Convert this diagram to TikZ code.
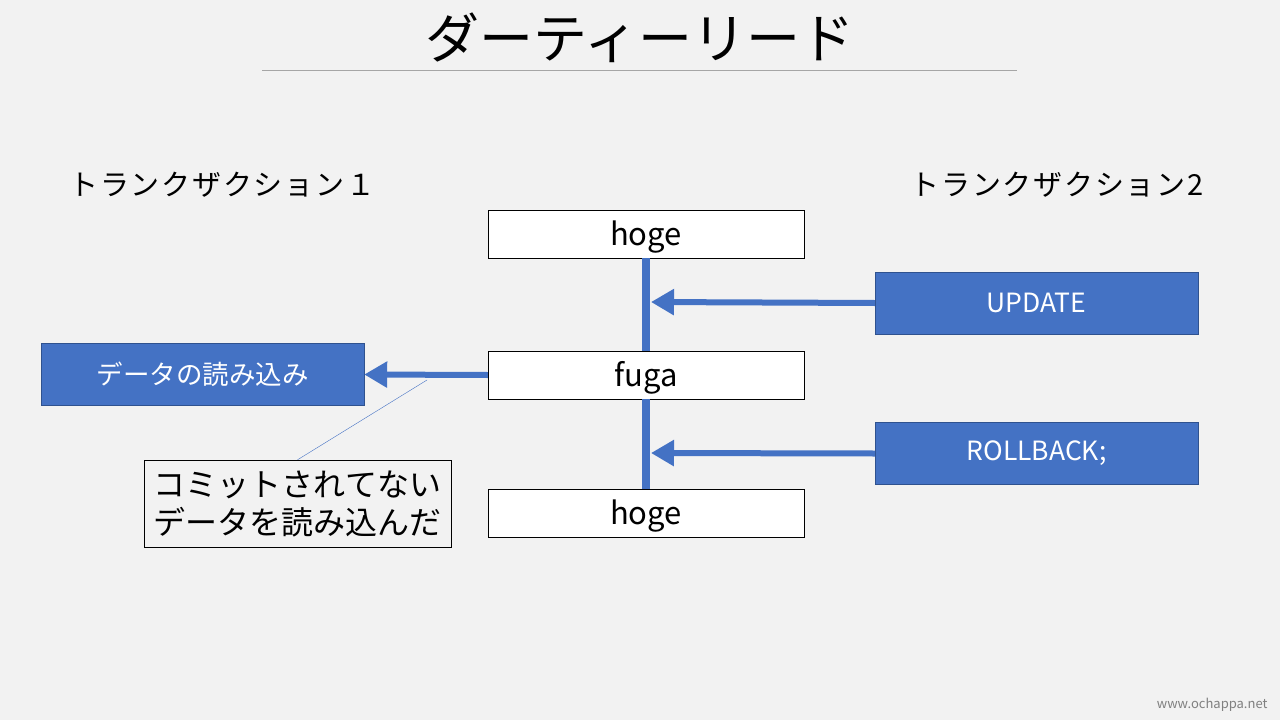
\documentclass[tikz,border=0pt]{standalone}
\usepackage{fontspec}
\setmainfont{Noto Sans CJK JP}
\newfontfamily\spacedjp[LetterSpace=6]{Noto Sans CJK JP}
\usepackage{tikz}
\usetikzlibrary{arrows.meta, positioning}

\definecolor{slideblue}{HTML}{4472C4}
\definecolor{slideedge}{HTML}{2F528F}
\definecolor{slidebg}{HTML}{F2F2F2}

\newcommand{\fs}[1]{\fontsize{#1}{#1}\selectfont}
\newcommand{\lowtext}[1]{\raisebox{-3pt}[\height][\depth]{#1}}

\begin{document}
\begin{tikzpicture}[x=1pt,y=-1pt,
        rowbox/.style={draw,thin,fill=white,minimum width=316pt,minimum height=48pt,inner sep=0pt,font=\fs{31}},
        opbox/.style={draw=slideedge,thin,fill=slideblue,text=white,minimum width=323pt,minimum height=62pt,inner sep=0pt,font=\fs{26.5}},
        flow/.style={slideblue,line width=6pt,-{Triangle[length=23pt,width=25pt]}},
        timeline/.style={slideblue,line width=8pt}]

        % background and title
        \fill[slidebg] (0,0) rectangle (1280,720);
        \useasboundingbox (0,0) rectangle (1280,720);
        \node[font=\fs{54}] at (640,38) (title) {ダーティーリード};
        \draw[gray!70] (262,70) -- (1017,70);

        \node[font=\spacedjp\fs{29},anchor=west] at (66,185) (tx1) {トランクザクション１};
        \node[font=\spacedjp\fs{29},anchor=east] at (1207,185) (tx2) {トランクザクション2};

        % rows
        \node[rowbox] at (646,234) (hoge1) {\lowtext{hoge}};
        \node[rowbox] at (646,375) (fuga) {\lowtext{fuga}};
        \node[rowbox] at (646,513.5) (hoge2) {\lowtext{hoge}};

        \draw[timeline] (hoge1.south) -- (fuga.north);
        \draw[timeline] (fuga.south) -- (hoge2.north);

        % operations
        \node[opbox] at (1036.5,303) (update) {UPDATE};
        \node[opbox] at (1036.5,453.5) (rollback) {ROLLBACK;};
        \node[opbox] at (202.5,374.5) (read) {データの読み込み};

        \coordinate (tip1) at (651,302);
        \coordinate (tip2) at (651,453);
        \draw[flow] (update.west) -- (tip1);
        \draw[flow] (rollback.west) -- (tip2);
        \draw[flow] (fuga.west) -- (read.east);

        % callout
        \node[draw,thin,fill=slidebg,minimum width=307pt,minimum height=87pt,inner sep=0pt,
              align=center,font=\fontsize{32}{38}\selectfont] at (297.5,503.5) (note)
              {コミットされてない\\データを読み込んだ};
        \coordinate (ptr) at (427,380);
        \draw[slideblue,thin] (note.north) -- (ptr);

        \node[gray,font=\fs{13},anchor=east] at (1271,705) (site) {www.ochappa.net};
      \end{tikzpicture}
\end{document}
